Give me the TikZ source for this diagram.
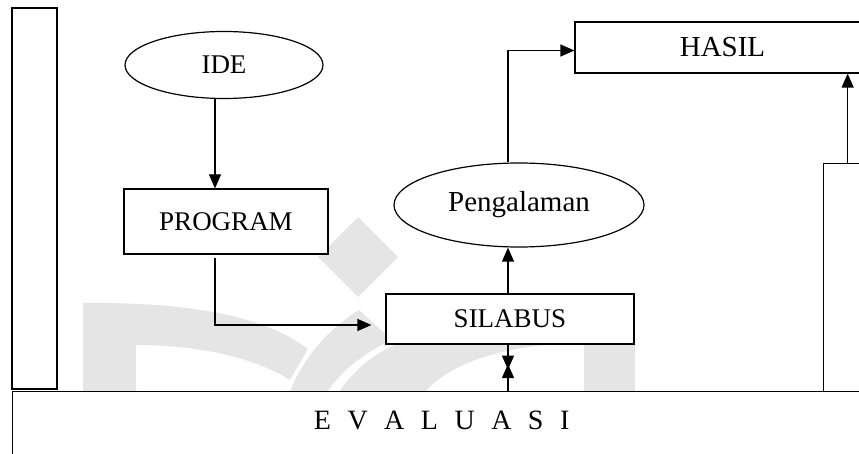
\documentclass[tikz,border=0pt]{standalone}
\usepackage{fontspec}
\setmainfont{Liberation Serif}
\usetikzlibrary{arrows.meta,shapes.geometric}

\newcommand{\jarak}{\hspace{16.5pt}}

\begin{document}
\begin{tikzpicture}[x=1pt,y=-1pt,>={Triangle[length=14pt,width=12pt]},
  kotak/.style={draw,line width=1.2pt,fill=white,rectangle,inner sep=0pt,font=\fontsize{27}{32}\selectfont},
  lonjong/.style={draw,line width=1.2pt,fill=white,ellipse,inner sep=0pt,font=\fontsize{27}{32}\selectfont},
  tiang/.style={draw,line width=1.8pt,fill=white,rectangle,inner sep=0pt},
  panah/.style={->,line width=1.2pt},
  logo/.style={fill=black!10}]

\useasboundingbox (0,0) rectangle (859,454);
\clip (0,0) rectangle (859,454);

% logo di belakang
\fill[logo] (83,391) -- (83,303) .. controls (190,302) and (265,316) .. (308,349) -- (290,380) .. controls (255,358) and (200,345) .. (136,345) -- (136,391) -- cycle;
\fill[logo] (358,217) -- (398,257) -- (358,297) -- (318,257) -- cycle;
\fill[logo] (290,391) .. controls (305,355) and (330,328) .. (359,310) -- (392,340) .. controls (365,352) and (340,372) .. (328,391) -- cycle;
\fill[logo] (340,391) .. controls (354,370) and (375,352) .. (400,343) -- (570,343) .. controls (505,346) and (452,362) .. (426,391) -- cycle;
\fill[logo] (584,300) rectangle (635,391);

% bingkai
\node[tiang,minimum width=45pt,minimum height=381pt] (kiri) at (34.5,198.5) {};
\node[tiang,line width=1.3pt,anchor=north west,minimum width=858pt,minimum height=90pt,
  text height=38pt,text depth=52pt,font=\fontsize{28}{32}\selectfont] (evaluasi) at (12,391)
  {E\jarak V\jarak A\jarak L\jarak U\jarak A\jarak S\jarak I};
\node[tiang,line width=1.3pt,anchor=north west,minimum width=48pt,minimum height=228pt] (kanan) at (823,163) {};

% alur
\node[kotak,minimum width=295pt,minimum height=51pt,font=\fontsize{29}{32}\selectfont] (hasil) at (722.5,47.5) {HASIL};
\node[lonjong,minimum width=198pt,minimum height=67pt] (ide) at (224,65) {IDE};
\node[kotak,minimum width=204pt,minimum height=65pt] (program) at (226,221.5) {PROGRAM};
\node[kotak,minimum width=248pt,minimum height=50pt] (silabus) at (510,319) {SILABUS};
\node[lonjong,minimum width=250pt,minimum height=84pt,font=\fontsize{29}{32}\selectfont] (pengalaman) at (519,205) {Pengalaman};

\draw[panah] ([xshift=-9pt]ide.south) -- ([xshift=-11pt]program.north);
\draw[panah] ([xshift=-11pt,yshift=-3pt]program.south) |- ([xshift=-14pt,yshift=-6pt]silabus.west);
\draw[panah] ([xshift=-2pt]silabus.north) -- ([xshift=-2pt]silabus.north |- pengalaman.south);
\draw[panah] ([xshift=-2pt]silabus.north |- pengalaman.north) |- ([yshift=-3pt]hasil.west);
\draw[panah] (kanan.north) -- (kanan.north |- hasil.south);
\draw[panah] ([xshift=-2pt]silabus.south) -- ([xshift=-2pt,yshift=-25pt]silabus.south);
\draw[panah] ([xshift=-2pt]silabus.south |- evaluasi.north) -- ([xshift=-2pt,yshift=27pt]silabus.south |- evaluasi.north);
\end{tikzpicture}
\end{document}
